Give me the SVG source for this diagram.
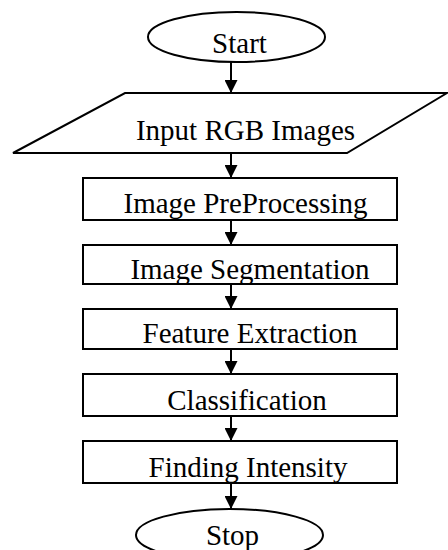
<svg xmlns="http://www.w3.org/2000/svg" width="448" height="550" viewBox="0 0 448 550">
<style>
.s{fill:#fff;stroke:#000;stroke-width:2}
.t{font-family:"Liberation Serif","Times New Roman",serif;font-size:29px;fill:#000;text-anchor:middle}
.c{stroke:#000;stroke-width:2;fill:none}
</style>
<defs>
<marker id="a" markerUnits="userSpaceOnUse" markerWidth="13" markerHeight="13" refX="13" refY="6.5" orient="auto" viewBox="0 0 13 13">
<path d="M0,0 L13,6.5 L0,13 Z" fill="#000"/>
</marker>
</defs>
<g id="connectors">
<line class="c" x1="231" y1="62" x2="231" y2="93" marker-end="url(#a)"/>
<line class="c" x1="231" y1="153" x2="231" y2="178" marker-end="url(#a)"/>
<line class="c" x1="231" y1="220" x2="231" y2="245" marker-end="url(#a)"/>
<line class="c" x1="231" y1="284" x2="231" y2="309" marker-end="url(#a)"/>
<line class="c" x1="231" y1="349" x2="231" y2="374" marker-end="url(#a)"/>
<line class="c" x1="231" y1="416" x2="231" y2="441" marker-end="url(#a)"/>
<line class="c" x1="231" y1="483" x2="231" y2="509" marker-end="url(#a)"/>
</g>
<g id="start">
<ellipse class="s" cx="236.5" cy="37" rx="88.5" ry="25"/>
<text class="t" x="239.5" y="53">Start</text>
</g>
<g id="input">
<polygon class="s" points="125,93 447,93 347,153 13,153"/>
<text class="t" x="245.5" y="140">Input RGB Images</text>
</g>
<g id="preprocessing">
<rect class="s" x="83" y="178" width="314" height="42"/>
<text class="t" x="245.5" y="213">Image PreProcessing</text>
</g>
<g id="segmentation">
<rect class="s" x="83" y="245" width="314" height="39"/>
<text class="t" x="250" y="279">Image Segmentation</text>
</g>
<g id="feature">
<rect class="s" x="83" y="309" width="314" height="40"/>
<text class="t" x="250" y="343">Feature Extraction</text>
</g>
<g id="classification">
<rect class="s" x="83" y="374" width="314" height="42"/>
<text class="t" x="247" y="410">Classification</text>
</g>
<g id="intensity">
<rect class="s" x="83" y="441" width="314" height="42"/>
<text class="t" x="248" y="477">Finding Intensity</text>
</g>
<g id="stop">
<ellipse class="s" cx="229.5" cy="535" rx="93.5" ry="26"/>
<text class="t" x="232.5" y="545">Stop</text>
</g>
</svg>
